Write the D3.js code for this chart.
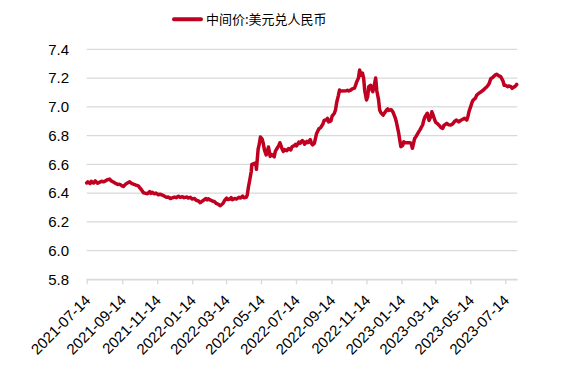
<!DOCTYPE html>
<html><head><meta charset="utf-8">
<script src="https://cdn.jsdelivr.net/npm/d3@7"></script>
<style>body{margin:0;background:#fff}svg{display:block}</style>
</head><body><svg id="c" width="583" height="365"></svg>
<script>
const seriesName = "中间价:美元兑人民币";
const dates = [
"2021-07-14","2021-07-16","2021-07-20","2021-07-22","2021-07-26","2021-07-29","2021-08-02","2021-08-05","2021-08-09","2021-08-12","2021-08-16","2021-08-19","2021-08-23","2021-08-26","2021-08-30","2021-09-02","2021-09-06","2021-09-09","2021-09-13","2021-09-16","2021-09-20","2021-09-23","2021-09-27","2021-09-30","2021-10-08","2021-10-12","2021-10-14","2021-10-18","2021-10-21","2021-10-25","2021-10-28","2021-11-01","2021-11-03","2021-11-05","2021-11-09","2021-11-12","2021-11-16","2021-11-19","2021-11-23","2021-11-26","2021-11-30","2021-12-03","2021-12-07","2021-12-10","2021-12-14","2021-12-17","2021-12-21","2021-12-24","2021-12-28","2021-12-31",
"2022-01-05","2022-01-07","2022-01-11","2022-01-14","2022-01-18","2022-01-21","2022-01-25","2022-01-28","2022-02-07","2022-02-09","2022-02-11","2022-02-15","2022-02-18","2022-02-22","2022-02-25","2022-03-01","2022-03-04","2022-03-07","2022-03-09","2022-03-11","2022-03-15","2022-03-17","2022-03-21","2022-03-23","2022-03-25","2022-03-29","2022-04-01","2022-04-06","2022-04-08","2022-04-12","2022-04-14","2022-04-18","2022-04-20","2022-04-22","2022-04-25","2022-04-27","2022-04-28","2022-05-05","2022-05-06","2022-05-09","2022-05-11","2022-05-13","2022-05-16","2022-05-18","2022-05-20","2022-05-23","2022-05-25","2022-05-27","2022-05-30","2022-06-01","2022-06-06","2022-06-08","2022-06-10","2022-06-14","2022-06-16","2022-06-20","2022-06-22","2022-06-24","2022-06-28","2022-07-01","2022-07-05","2022-07-07","2022-07-11","2022-07-13","2022-07-15","2022-07-19","2022-07-21","2022-07-25","2022-07-27","2022-07-29","2022-08-02","2022-08-04","2022-08-08","2022-08-10","2022-08-12","2022-08-15","2022-08-17","2022-08-19","2022-08-23","2022-08-26","2022-08-30","2022-09-01","2022-09-05","2022-09-07","2022-09-09","2022-09-13","2022-09-15","2022-09-19","2022-09-21","2022-09-23","2022-09-26","2022-09-28","2022-09-30","2022-10-10","2022-10-12","2022-10-14","2022-10-18","2022-10-20","2022-10-24","2022-10-26","2022-10-28","2022-10-31","2022-11-02","2022-11-04","2022-11-07","2022-11-09","2022-11-11","2022-11-14","2022-11-16","2022-11-18","2022-11-21","2022-11-23","2022-11-25","2022-11-28","2022-11-30","2022-12-02","2022-12-05","2022-12-07","2022-12-09","2022-12-13","2022-12-15","2022-12-19","2022-12-21","2022-12-23","2022-12-27","2022-12-30",
"2023-01-03","2023-01-05","2023-01-09","2023-01-11","2023-01-13","2023-01-16","2023-01-18","2023-01-20","2023-01-28","2023-01-31","2023-02-02","2023-02-06","2023-02-08","2023-02-13","2023-02-15","2023-02-20","2023-02-22","2023-02-24","2023-02-28","2023-03-03","2023-03-06","2023-03-08","2023-03-10","2023-03-13","2023-03-15","2023-03-17","2023-03-21","2023-03-24","2023-03-27","2023-03-29","2023-04-03","2023-04-06","2023-04-10","2023-04-13","2023-04-17","2023-04-20","2023-04-24","2023-04-27","2023-05-04","2023-05-08","2023-05-10","2023-05-12","2023-05-15","2023-05-17","2023-05-19","2023-05-23","2023-05-25","2023-05-29","2023-05-31","2023-06-02","2023-06-06","2023-06-08","2023-06-12","2023-06-14","2023-06-16","2023-06-19","2023-06-21","2023-06-26","2023-06-29","2023-07-03","2023-07-06","2023-07-10","2023-07-12","2023-07-14","2023-07-18","2023-07-20","2023-07-24","2023-07-26","2023-07-28","2023-08-01","2023-08-03"
];
const values = [
6.470,6.478,6.466,6.481,6.470,6.484,6.468,6.474,6.482,6.478,6.485,6.493,6.497,6.484,6.476,6.468,6.460,6.462,6.452,6.446,6.462,6.470,6.478,6.468,6.455,6.450,6.440,6.420,6.402,6.398,6.395,6.410,6.398,6.405,6.395,6.400,6.388,6.392,6.385,6.380,6.370,6.372,6.362,6.366,6.372,6.368,6.378,6.370,6.375,6.368,
6.373,6.365,6.370,6.358,6.362,6.350,6.345,6.333,6.362,6.352,6.360,6.350,6.345,6.340,6.328,6.320,6.312,6.322,6.330,6.345,6.365,6.355,6.358,6.368,6.354,6.362,6.358,6.370,6.365,6.378,6.368,6.370,6.385,6.440,6.505,6.550,6.600,6.610,6.565,6.705,6.740,6.790,6.775,6.745,6.700,6.665,6.690,6.720,6.655,6.670,6.652,6.690,6.705,6.730,6.750,6.705,6.690,6.702,6.695,6.710,6.700,6.722,6.730,6.738,6.728,6.755,6.745,6.765,6.758,6.740,6.760,6.750,6.772,6.745,6.735,6.745,6.780,6.815,6.848,6.855,6.880,6.905,6.910,6.920,6.895,6.902,6.935,6.955,6.980,7.030,7.080,7.117,7.110,7.112,7.115,7.110,7.118,7.125,7.130,7.150,7.175,7.200,7.256,7.220,7.235,7.200,7.110,7.047,7.070,7.140,7.150,7.120,7.105,7.160,7.200,7.110,7.050,6.977,6.960,6.942,6.955,6.977,6.985,6.975,6.980,6.965,
6.925,6.896,6.820,6.769,6.723,6.730,6.757,6.750,6.750,6.745,6.711,6.780,6.790,6.825,6.838,6.875,6.908,6.930,6.955,6.905,6.930,6.965,6.945,6.908,6.890,6.885,6.870,6.855,6.850,6.870,6.885,6.875,6.873,6.880,6.900,6.908,6.895,6.905,6.920,6.908,6.935,6.970,7.005,7.030,7.047,7.060,7.080,7.094,7.100,7.105,7.117,7.125,7.140,7.150,7.163,7.198,7.200,7.220,7.226,7.215,7.210,7.180,7.150,7.151,7.140,7.145,7.140,7.128,7.135,7.145,7.156
];
const yTicks = [5.8,6.0,6.2,6.4,6.6,6.8,7.0,7.2,7.4];
const xTickLabels = ["2021-07-14","2021-09-14","2021-11-14","2022-01-14","2022-03-14","2022-05-14","2022-07-14","2022-09-14","2022-11-14","2023-01-14","2023-03-14","2023-05-14","2023-07-14"];
const xDomain = ["2021-07-14","2023-08-04"];

const parse = d3.timeParse("%Y-%m-%d");
const data = dates.map((d,i)=>({date:parse(d), value:values[i]}));
const svg = d3.select("#c");
const mLeft = 86.7, mRight = 517.3, mTop = 49.3, mBottom = 279.3;
const x = d3.scaleTime().domain(xDomain.map(parse)).range([mLeft, mRight]);
const y = d3.scaleLinear().domain([5.8, 7.4]).range([mBottom, mTop]);

// gridlines
svg.append("g").selectAll("line").data(yTicks).join("line")
  .attr("x1", mLeft).attr("x2", mRight)
  .attr("y1", d=>y(d)).attr("y2", d=>y(d))
  .attr("stroke", "#d9d9d9").attr("stroke-width", 1.3);

// y labels
svg.append("g").selectAll("text").data(yTicks).join("text")
  .attr("x", 69).attr("y", d=>y(d)).attr("dy", "0.36em")
  .attr("text-anchor", "end")
  .attr("font-family", "Liberation Sans, Arial, sans-serif")
  .attr("font-size", 15).attr("fill", "#000")
  .text(d=>d.toFixed(1));

// x axis
const xAxis = d3.axisBottom(x)
  .tickValues(xTickLabels.map(parse))
  .tickFormat(d3.timeFormat("%Y-%m-%d"))
  .tickSize(5).tickSizeOuter(0);
const gx = svg.append("g").attr("transform", `translate(0,${mBottom})`).call(xAxis);
gx.select(".domain").attr("stroke", "#d9d9d9").attr("stroke-width", 1.3);
gx.selectAll(".tick line").attr("stroke", "#d9d9d9").attr("stroke-width", 1.3);
gx.selectAll(".tick text")
  .attr("font-family", "Liberation Sans, Arial, sans-serif")
  .attr("font-size", 15).attr("fill", "#000")
  .attr("text-anchor", "end")
  .attr("x", 0).attr("y", 0).attr("dy", 0)
  .attr("transform", "translate(4.3,22) rotate(-45)");

// line
const line = d3.line().x(d=>x(d.date)).y(d=>y(d.value));
svg.append("path").datum(data)
  .attr("d", line).attr("fill", "none")
  .attr("stroke", "#C00020").attr("stroke-width", 3.5)
  .attr("stroke-linejoin", "round").attr("stroke-linecap", "round");

// legend
svg.append("line").attr("x1", 174).attr("x2", 201).attr("y1", 19.3).attr("y2", 19.3)
  .attr("stroke", "#C00020").attr("stroke-width", 4).attr("stroke-linecap", "round");
svg.append("text").attr("x", 206).attr("y", 24)
  .attr("font-family", "Noto Sans CJK SC, sans-serif").attr("font-size", 13).attr("fill", "#000")
  .text(seriesName);
</script></body></html>
